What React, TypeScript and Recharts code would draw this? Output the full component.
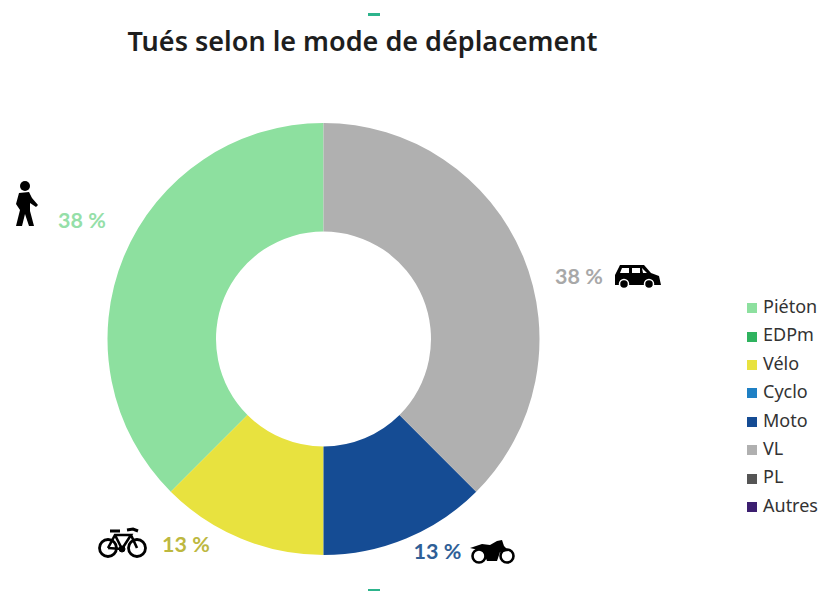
import { Legend, Pie, PieChart } from "recharts";

const categories = ["Piéton", "EDPm", "Vélo", "Cyclo", "Moto", "VL", "PL", "Autres"];
// the slice edges sit on exact eighths, the printed labels are these rounded up
const shares = [37.5, 0, 12.5, 0, 12.5, 37.5, 0, 0];
const colors = ["#8de09f", "#2fb35f", "#e8e23f", "#1f80c4", "#154c94", "#b0b0b0", "#555555", "#3c1f70"];
const labelColors = ["#95dfa8", "", "#bdb83f", "", "#2f5f97", "#a8a8a8", "", ""];

const data = categories.map((name, i) => ({ name, value: shares[i], fill: colors[i] }));

// hand placed, the labels do not sit on the slice radius in the original
const labelSpots: Record<string, [number, number]> = {
  "Piéton": [82, 219.5],
  "Vélo": [186, 543.5],
  "Moto": [437.5, 550.5],
  "VL": [579, 275.5],
};

const Walker = () => (
  <g fill="#000">
    <circle cx={25} cy={186} r={5} />
    <path d="M19 193 L29 192 L32 198 L38 205 L36 207 L30 203 L30 211 L34 226 L29 226 L25 214 L22 226 L16 226 L20 210 L16 204 Z" />
  </g>
);

const Car = () => (
  <g>
    <path d="M615 285 L615 275 L620 265 L644 265 L651 273 L659 276 L661 285 Z" fill="#000" />
    <path d="M622 268 L629 268 L629 273 L620 273 Z M632 268 L640 268 L640 273 L632 273 Z M642 268 L647 273 L643 273 Z" fill="#fff" />
    <circle cx={624} cy={284} r={4.5} fill="#000" stroke="#fff" strokeWidth={1.5} />
    <circle cx={649} cy={284} r={4.5} fill="#000" stroke="#fff" strokeWidth={1.5} />
  </g>
);

const Bike = () => (
  <g fill="none" stroke="#000">
    <circle cx={108} cy={548} r={8.5} strokeWidth={2.8} />
    <circle cx={137} cy={548} r={8.5} strokeWidth={2.8} />
    <path d="M108 548 L115 535 L131 535 L122 549 L108 548 M115 535 L122 549 M131 535 L137 548" strokeWidth={2.6} />
    <path d="M110 531 L120 531 M127 530 L133 529 L138 531" strokeWidth={3} />
    <circle cx={122} cy={549} r={3} fill="#000" strokeWidth={1} />
  </g>
);

const Motorbike = () => (
  <g>
    <circle cx={479} cy={556} r={6.5} fill="#fff" stroke="#000" strokeWidth={2.6} />
    <circle cx={507} cy={556} r={6.5} fill="#fff" stroke="#000" strokeWidth={2.6} />
    <path d="M470 548 L482 544 L490 545 L497 541 L502 540 L504 546 L509 551 L500 552 L497 561 L487 561 L483 551 Z" fill="#000" />
  </g>
);

const renderShare = (props: any) => {
  const spot = labelSpots[props.name];
  if (!spot) return null;
  return (
    <text
      x={spot[0]}
      y={spot[1]}
      textAnchor="middle"
      dominantBaseline="central"
      fill={labelColors[props.index]}
      fontSize={21.5}
      fontWeight={700}
      fontFamily="Lato"
    >
      {Math.round(props.value)} %
    </text>
  );
};

export default function App() {
  return (
    <div style={{ position: "absolute", left: 0, top: 0, width: 821, height: 591, background: "#fff", overflow: "hidden" }}>
      <PieChart width={821} height={591} margin={{ top: 0, right: 0, bottom: 0, left: 0 }}>
        <text x={362.5} y={40} textAnchor="middle" dominantBaseline="central" fontSize={27} fontWeight={600} fontFamily="Noto Sans" fill="#1e1e1e">
          Tués selon le mode de déplacement
        </text>
        <rect x={368} y={13} width={12} height={3} fill="#2db48c" />
        <rect x={368} y={589} width={12} height={2} fill="#2db48c" />
        <Pie
          data={data}
          dataKey="value"
          nameKey="name"
          cx={323.5}
          cy={339}
          innerRadius={107.5}
          outerRadius={216}
          startAngle={90}
          endAngle={450}
          stroke="none"
          label={renderShare}
          labelLine={false}
          isAnimationActive={false}
        />
        <Walker />
        <Car />
        <Bike />
        <Motorbike />
        <Legend
          layout="vertical"
          iconType="square"
          iconSize={10}
          itemSorter={null}
          wrapperStyle={{ left: 747, top: 292, width: 90, lineHeight: "28.4px", fontFamily: "Noto Sans", fontSize: 18 }}
          formatter={(value: string) => <span style={{ color: "#333", marginLeft: 2 }}>{value}</span>}
        />
      </PieChart>
    </div>
  );
}
